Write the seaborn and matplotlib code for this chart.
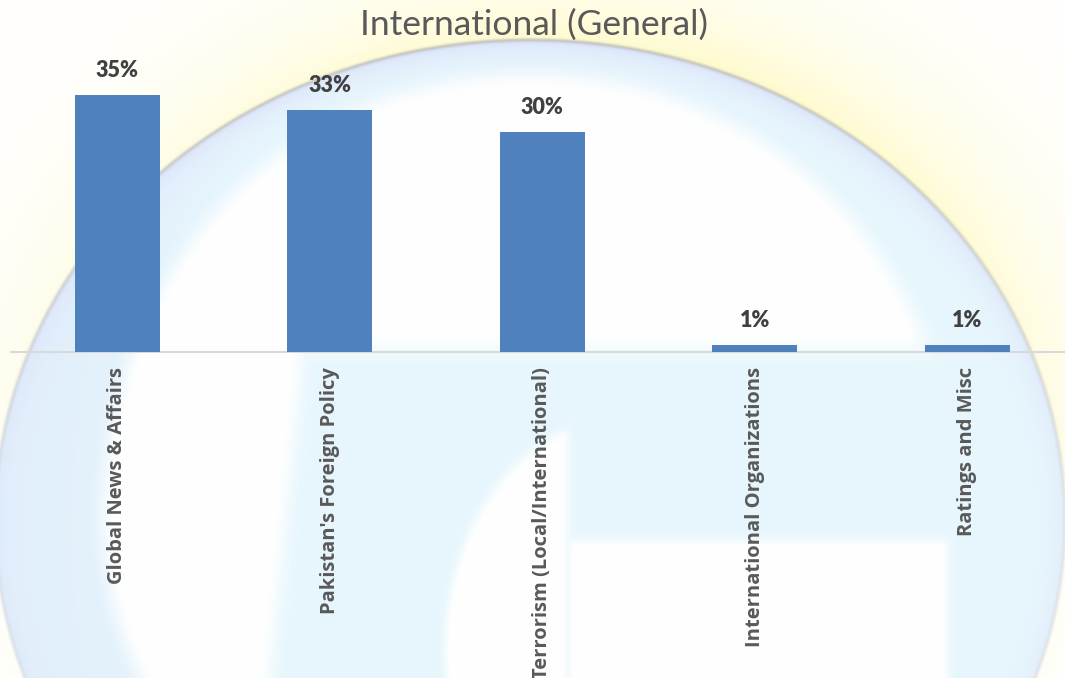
import numpy as np
import matplotlib
matplotlib.use("Agg")
import matplotlib.pyplot as plt
import seaborn as sns

# Chart content
title = "International (General)"
categories = [
    "Global News & Affairs",
    "Pakistan's Foreign Policy",
    "Terrorism (Local/International)",
    "International Organizations",
    "Ratings and Misc",
]
values = [35, 33, 30, 1, 1]

W, H = 1065, 678
BAR_COLOR = "#4f81bd"

sns.set_theme(style="white")
plt.rcParams["font.family"] = ["Open Sans", "DejaVu Sans"]


def smooth(e0, e1, x):
    t = np.clip((x - e0) / (e1 - e0), 0.0, 1.0)
    return t * t * (3 - 2 * t)


def mix(base, color, w):
    color = np.asarray(color, dtype=float) / 255.0
    return base * (1 - w[..., None]) + color * w[..., None]


def logo_background():
    """Faint circular 'G' emblem drawn behind the chart."""
    yy, xx = np.mgrid[0:H, 0:W] + 0.5
    nx = (xx - 530) / 535
    ny = (yy - 520) / 480
    r = np.hypot(nx, ny)
    ang = np.arctan2(-ny, nx)
    up = np.clip(np.sin(ang), 0, 1)
    left_up = np.clip(np.sin(ang + 0.5), 0, 1)

    inside = 1 - smooth(0.995, 1.005, r)

    # white highlight inside the outer ring
    t = 0.80 + 0.13 * up ** 2
    ring_in = 1 - smooth(t - 0.03, t + 0.03, r)
    xr = 300 - 0.1 * (yy - 380)
    region = np.maximum(1 - smooth(330, 370, yy), 1 - smooth(xr - 15, xr + 15, xx))
    highlight = ring_in * region

    # inner opening of the G
    ge = ((xx - 620) / 175) ** 2 + ((yy - 650) / 230) ** 2
    g1 = (1 - smooth(0.92, 1.08, ge)) * (1 - smooth(560, 576, xx))
    g2 = smooth(560, 576, xx) * (1 - smooth(940, 956, xx)) * smooth(532, 548, yy)
    g_white = np.maximum(g1, g2)

    white_mask = np.maximum(highlight, g_white)
    w_cyan = inside * (1 - white_mask) * 0.8

    img = np.ones((H, W, 3))
    img = mix(img, (226, 245, 252), w_cyan)
    # cooler tint along the left of the ring
    w_blue = inside * (1 - white_mask) * smooth(300, 60, xx) * 0.4
    img = mix(img, (220, 232, 250), w_blue)

    # lavender glow just inside the rim
    w_lav = inside * np.exp(-np.clip(1 - r, 0, None) / 0.03) * (0.3 + 0.4 * up)
    img = mix(img, (214, 218, 248), w_lav)

    # pale yellow glow outside the rim, strongest towards the upper left
    outside = smooth(0.995, 1.005, r)
    w_yel = outside * np.exp(-np.clip(r - 1, 0, None) / 0.14) * (0.1 + 0.35 * up ** 0.6 + 0.35 * left_up ** 2)
    img = mix(img, (255, 249, 190), w_yel)

    # thin grey rim line
    w_line = np.exp(-((r - 1) * 500 / 2.0) ** 2) * (0.15 + 0.3 * up)
    img = mix(img, (150, 150, 150), w_line)
    return np.clip(img, 0, 1)


fig = plt.figure(figsize=(W / 100, H / 100), dpi=100)
fig.patch.set_facecolor("white")

bg = fig.add_axes([0, 0, 1, 1], zorder=0)
bg.imshow(logo_background(), extent=[0, W, H, 0], aspect="auto", interpolation="bilinear")
bg.set_axis_off()

# Plot area: baseline at y=352 px, 40 percentage points tall
ax = fig.add_axes([11 / W, (H - 352) / H, 1062.5 / W, 293.6 / H], zorder=1)
ax.patch.set_alpha(0)

sns.barplot(x=categories, y=values, color=BAR_COLOR, saturation=1, width=0.4,
            linewidth=0, ax=ax)

ax.set_xlim(-0.5, len(categories) - 0.5)
ax.set_ylim(0, 40)
ax.set_xlabel("")
ax.set_ylabel("")
ax.set_yticks([])
for side in ("top", "right", "left"):
    ax.spines[side].set_visible(False)
ax.spines["bottom"].set_color("#d9d9d9")
ax.spines["bottom"].set_linewidth(1.5)
ax.spines["bottom"].set_zorder(0.5)

ax.tick_params(axis="x", length=0, pad=11, labelrotation=90)
for lbl in ax.get_xticklabels():
    lbl.set_fontfamily(["Open Sans", "DejaVu Sans"])
    lbl.set_fontweight("bold")
    lbl.set_fontsize(14.5)
    lbl.set_color("#595959")

for container in ax.containers:
    ax.bar_label(
        container,
        labels=[f"{v}%" for v in values],
        padding=10,
        fontsize=15.5,
        fontweight=800,
        color="#404040",
        family=["Lato", "DejaVu Sans"],
    )

fig.text(534 / W, 1 - 25 / H, title, ha="center", va="center",
         fontsize=25.5, color="#595959", family=["Lato", "DejaVu Sans"])

fig.savefig("out.png", dpi=100)
